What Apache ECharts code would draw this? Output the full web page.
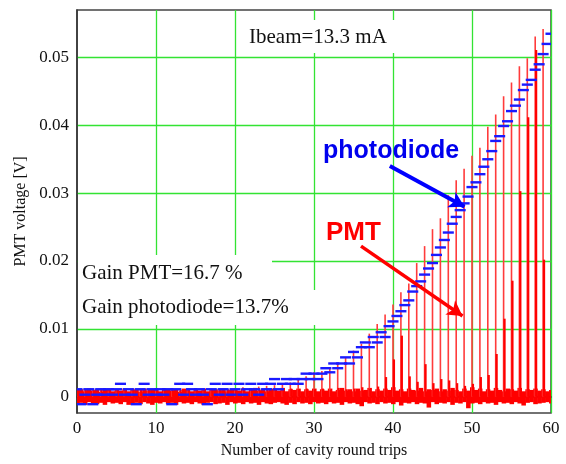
<!DOCTYPE html>
<html>
<head>
<meta charset="utf-8">
<title>PMT voltage vs round trips</title>
<script src="https://cdn.jsdelivr.net/npm/echarts@6/dist/echarts.min.js"></script>
<style>
  html, body { margin: 0; padding: 0; background: #fff; }
  #chart { width: 566px; height: 464px; }
</style>
</head>
<body>
<div id="chart"></div>
<script>
// PMT pulse heights [V], one main pulse per cavity round trip 0..59
var roundTrips = [0,1,2,3,4,5,6,7,8,9,10,11,12,13,14,15,16,17,18,19,20,21,22,23,24,25,26,27,28,29,
  30,31,32,33,34,35,36,37,38,39,40,41,42,43,44,45,46,47,48,49,50,51,52,53,54,55,56,57,58,59];
var pmtMain = [0.0009,0.0011,0.0010,0.0012,0.0009,0.0011,0.0010,0.0012,0.0011,0.0009,
  0.0012,0.0010,0.0011,0.0009,0.0012,0.0010,0.0011,0.0012,0.0010,0.0011,
  0.0013,0.0014,0.0013,0.0015,0.0016,0.0017,0.0018,0.0021,0.0025,0.0030,
  0.0036,0.0038,0.0042,0.0050,0.0057,0.0068,0.0078,0.0093,0.0107,0.0121,
  0.0136,0.0154,0.0167,0.0197,0.0222,0.0247,0.0263,0.0297,0.0319,0.0336,
  0.0355,0.0367,0.0398,0.0416,0.0443,0.0463,0.0487,0.0499,0.0531,0.0542];
// second (delayed) pulse right after each main one
var echoOffset = 0.12;
var pmtEcho = [0.0010,0.0011,0.0010,0.0012,0.0010,0.0011,0.0010,0.0012,0.0010,0.0011,
  0.0012,0.0010,0.0011,0.0010,0.0012,0.0010,0.0011,0.0010,0.0012,0.0011,
  0.0010,0.0012,0.0011,0.0010,0.0012,0.0011,0.0010,0.0012,0.0011,0.0012,
  0.0011,0.0012,0.0010,0.0013,0.0011,0.0012,0.0014,0.0012,0.0015,0.0029,
  0.0055,0.0090,0.0030,0.0022,0.0048,0.0020,0.0026,0.0024,0.0020,0.0016,
  0.0019,0.0029,0.0032,0.0063,0.0115,0.0171,0.0303,0.0412,0.0511,0.0202];

// photodiode, sampled every half round trip from 0 to 60
var pdStep = 0.5;
var photodiode = [
  0.0011,-0.0011,0.0003,0.0011,-0.0011,0.0003,0.0011,0.0003,0.0011,0.0003,
  0.0011,0.0019,0.0003,0.0011,0.0003,-0.0011,0.0011,0.0019,0.0003,0.0011,
  0.0003,0.0011,0.0003,0.0011,-0.0011,0.0011,0.0019,0.0003,0.0019,0.0011,
  0.0003,0.0011,0.0003,-0.0011,0.0011,0.0019,0.0003,0.0011,0.0019,0.0003,
  0.0011,0.0019,0.0003,0.0011,0.0019,0.0011,0.0003,0.0019,0.0011,0.0019,
  0.0026,0.0011,0.0019,0.0026,0.0019,0.0026,0.0019,0.0026,0.0034,0.0026,
  0.0034,0.0026,0.0034,0.0042,0.0036,0.0049,0.0042,0.0049,0.0058,0.0049,
  0.0066,0.0058,0.0073,0.0080,0.0073,0.0088,0.0080,0.0095,0.0088,0.0104,
  0.0111,0.0119,0.0126,0.0135,0.0142,0.0155,0.0163,0.0170,0.0180,0.0189,
  0.0197,0.0209,0.0220,0.0231,0.0242,0.0255,0.0265,0.0275,0.0285,0.0295,
  0.0309,0.0316,0.0328,0.0339,0.0350,0.0362,0.0377,0.0384,0.0399,0.0406,
  0.0421,0.0429,0.0438,0.0452,0.0460,0.0467,0.0482,0.0490,0.0505,0.0520,
  0.0535];

// PMT baseline noise envelope, same half round trip sampling
var noiseHi = [
  0.0010,0.0011,0.0008,0.0012,0.0009,0.0011,0.0007,0.0010,0.0012,0.0008,0.0011,
  0.0009,0.0012,0.0008,0.0010,0.0011,0.0007,0.0012,0.0009,0.0011,0.0010,
  0.0008,0.0012,0.0010,0.0009,0.0011,0.0007,0.0012,0.0010,0.0008,0.0011,
  0.0009,0.0012,0.0008,0.0010,0.0011,0.0009,0.0012,0.0008,0.0010,0.0011,
  0.0009,0.0012,0.0008,0.0010,0.0013,0.0009,0.0011,0.0008,0.0012,0.0010,
  0.0009,0.0013,0.0008,0.0011,0.0010,0.0012,0.0008,0.0011,0.0009,0.0012,
  0.0008,0.0011,0.0009,0.0012,0.0008,0.0010,0.0013,0.0009,0.0011,0.0008,
  0.0012,0.0009,0.0010,0.0013,0.0008,0.0011,0.0009,0.0012,0.0010,0.0014,
  0.0009,0.0011,0.0008,0.0012,0.0010,0.0009,0.0013,0.0008,0.0011,0.0010,
  0.0012,0.0008,0.0011,0.0009,0.0013,0.0010,0.0008,0.0012,0.0009,0.0014,
  0.0010,0.0012,0.0008,0.0011,0.0009,0.0013,0.0010,0.0008,0.0012,0.0011,
  0.0009,0.0013,0.0008,0.0011,0.0010,0.0012,0.0009,0.0011,0.0008,0.0010];
var noiseLo = [
  -0.0011,-0.0009,-0.0012,-0.0008,-0.0010,-0.0011,-0.0009,-0.0012,-0.0008,-0.0010,-0.0009,
  -0.0011,-0.0008,-0.0012,-0.0010,-0.0009,-0.0011,-0.0008,-0.0010,-0.0012,-0.0009,
  -0.0010,-0.0008,-0.0011,-0.0009,-0.0012,-0.0008,-0.0010,-0.0009,-0.0011,-0.0008,
  -0.0010,-0.0012,-0.0009,-0.0008,-0.0011,-0.0010,-0.0009,-0.0012,-0.0008,-0.0010,
  -0.0009,-0.0011,-0.0008,-0.0010,-0.0009,-0.0012,-0.0008,-0.0010,-0.0011,-0.0009,
  -0.0008,-0.0010,-0.0012,-0.0009,-0.0011,-0.0008,-0.0010,-0.0009,-0.0011,-0.0008,
  -0.0010,-0.0009,-0.0011,-0.0008,-0.0010,-0.0009,-0.0012,-0.0008,-0.0010,-0.0009,
  -0.0011,-0.0014,-0.0008,-0.0010,-0.0009,-0.0011,-0.0008,-0.0010,-0.0009,-0.0011,
  -0.0008,-0.0013,-0.0009,-0.0010,-0.0008,-0.0011,-0.0009,-0.0010,-0.0016,-0.0008,
  -0.0011,-0.0009,-0.0010,-0.0008,-0.0012,-0.0009,-0.0010,-0.0008,-0.0017,-0.0010,
  -0.0009,-0.0011,-0.0008,-0.0010,-0.0009,-0.0012,-0.0008,-0.0010,-0.0009,-0.0011,
  -0.0008,-0.0010,-0.0013,-0.0009,-0.0008,-0.0011,-0.0010,-0.0009,-0.0008,-0.0010];

// annotation arrows, data coordinates [round trip, volts]
var arrowPhotodiode = [[39.6, 0.0340], [49.05, 0.0280]];
var arrowPmt = [[35.95, 0.0222], [48.8, 0.0119]];

var serif = '"Liberation Serif", "Times New Roman", serif';
var sans = '"Liberation Sans", Arial, sans-serif';

var mainData = roundTrips.map(function (n, i) { return [n, pmtMain[i]]; });
var echoData = roundTrips.map(function (n, i) { return [n + echoOffset, pmtEcho[i]]; });
var pdData = photodiode.map(function (v, i) { return [i * pdStep, v]; });
var noiseData = noiseHi.map(function (h, i) { return [i * pdStep, h, noiseLo[i]]; });

function spike(color, width) {
  return function (params, api) {
    var top = api.coord([api.value(0), api.value(1)]);
    var base = api.coord([api.value(0), 0]);
    return {
      type: 'line',
      shape: { x1: top[0], y1: base[1], x2: top[0], y2: top[1] },
      style: { stroke: color, lineWidth: width }
    };
  };
}

var myChart = echarts.init(document.getElementById('chart'));
var option = {
  animation: false,
  backgroundColor: '#fff',
  grid: {
    left: 77, right: 15, top: 10, bottom: 48,
    show: true, borderColor: '#444', borderWidth: 1.5
  },
  xAxis: {
    type: 'value', min: 0, max: 60, interval: 10,
    name: 'Number of cavity round trips',
    nameLocation: 'middle', nameGap: 30,
    nameTextStyle: { fontFamily: serif, fontSize: 16, color: '#111' },
    axisLine: { lineStyle: { color: '#333', width: 1.5 } },
    axisTick: { show: false },
    axisLabel: { fontFamily: serif, fontSize: 17, color: '#111', margin: 7 },
    splitLine: { show: true, showMinLine: false, lineStyle: { color: '#33e333', width: 1.3 } }
  },
  yAxis: {
    type: 'value', min: -0.0024, max: 0.057,
    name: 'PMT voltage [V]',
    nameLocation: 'middle', nameGap: 46,
    nameTextStyle: { fontFamily: serif, fontSize: 16, color: '#111' },
    axisLine: { show: true, lineStyle: { color: '#333', width: 1.5 } },
    axisTick: { show: false },
    axisLabel: {
      fontFamily: serif, fontSize: 17, color: '#111', margin: 8,
      showMinLabel: false, showMaxLabel: false
    },
    splitLine: { show: true, showMinLine: false, showMaxLine: false, lineStyle: { color: '#33e333', width: 1.3 } }
  },
  graphic: [
    { type: 'rect', left: 242, top: 20, z: 1, shape: { width: 154, height: 33 }, style: { fill: '#fff' } },
    { type: 'rect', left: 78, top: 255, z: 1, shape: { width: 194, height: 35 }, style: { fill: '#fff' } },
    { type: 'rect', left: 78, top: 290, z: 1, shape: { width: 240, height: 35 }, style: { fill: '#fff' } },
    { type: 'text', left: 249, top: 27, z: 10, style: { text: 'Ibeam=13.3 mA', font: '21px ' + serif, fill: '#111' } },
    { type: 'text', left: 82, top: 263, z: 10, style: { text: 'Gain PMT=16.7 %', font: '21px ' + serif, fill: '#111' } },
    { type: 'text', left: 82, top: 297, z: 10, style: { text: 'Gain photodiode=13.7%', font: '21px ' + serif, fill: '#111' } },
    { type: 'text', left: 323, top: 139, z: 10, style: { text: 'photodiode', font: 'bold 25px ' + sans, fill: '#0000ee' } },
    { type: 'text', left: 326, top: 220, z: 10, style: { text: 'PMT', font: 'bold 26px ' + sans, fill: '#ff0000' } }
  ],
  series: [
    {
      name: 'noise', type: 'custom', clip: true, z: 2,
      data: noiseData,
      renderItem: function (params, api) {
        var a = api.coord([api.value(0) - pdStep / 2, api.value(1)]);
        var b = api.coord([api.value(0) + pdStep / 2, api.value(2)]);
        return {
          type: 'rect',
          shape: { x: a[0], y: a[1], width: b[0] - a[0] + 0.6, height: b[1] - a[1] },
          style: { fill: '#ff0000' }
        };
      }
    },
    { name: 'PMT', type: 'custom', clip: true, z: 3, data: mainData, renderItem: spike('#ff3b3b', 1.6) },
    { name: 'PMT echo', type: 'custom', clip: true, z: 3, data: echoData, renderItem: spike('#ff0000', 2.2) },
    {
      name: 'photodiode', type: 'custom', clip: true, z: 4,
      data: pdData,
      renderItem: function (params, api) {
        var p = api.coord([api.value(0), api.value(1)]);
        var w = api.size([1.4, 0])[0];
        return {
          type: 'line',
          shape: { x1: p[0] - w / 2, y1: p[1], x2: p[0] + w / 2, y2: p[1] },
          style: { stroke: '#1a1aff', lineWidth: 2.4 }
        };
      }
    },
    {
      name: 'arrows', type: 'line', data: [], z: 6,
      markLine: {
        silent: true, animation: false,
        symbol: ['none', 'arrow'], symbolSize: [13, 15],
        label: { show: false },
        data: [
          [{ coord: arrowPhotodiode[0], lineStyle: { color: '#0000ff', width: 4, type: 'solid' }, itemStyle: { color: '#0000ff' } },
           { coord: arrowPhotodiode[1] }],
          [{ coord: arrowPmt[0], lineStyle: { color: '#ff0000', width: 3.5, type: 'solid' }, itemStyle: { color: '#ff0000' } },
           { coord: arrowPmt[1] }]
        ]
      }
    }
  ]
};
myChart.setOption(option);
</script>
</body>
</html>
